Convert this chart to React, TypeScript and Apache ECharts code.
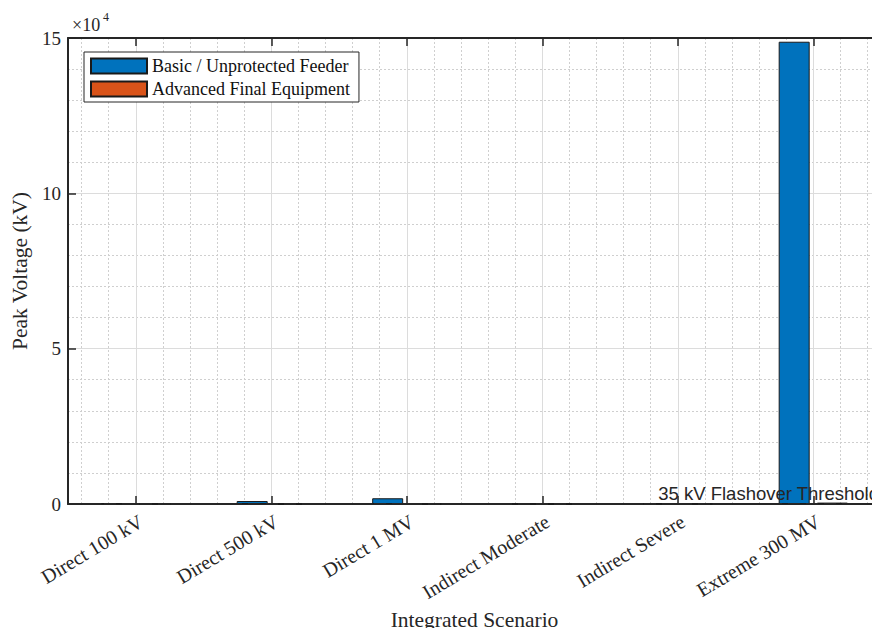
import React, { useEffect, useRef } from 'react';
import * as echarts from 'echarts';

// Scenario categories (x axis)
const categories = [
  'Direct 100 kV',
  'Direct 500 kV',
  'Direct 1 MV',
  'Indirect Moderate',
  'Indirect Severe',
  'Extreme 300 MV',
];

// Peak voltage (kV)
const basicFeeder = [220, 960, 1850, 60, 140, 148800];
const advancedEquipment = [20, 25, 30, 10, 15, 450];

// Flashover threshold (kV)
const thresholdKV = 35;
const thresholdLabel = '35 kV Flashover Threshold';

// Y axis range (kV) and major step
const yMin = 0;
const yMax = 150000;
const yStep = 50000;
const yScaleExp = 10000;

const seriesNames = ['Basic / Unprotected Feeder', 'Advanced Final Equipment'];

export default function App() {
  const ref = useRef<HTMLDivElement>(null);

  useEffect(() => {
    if (!ref.current) return;
    const chart = echarts.init(ref.current, null, { renderer: 'svg' });
    const axisColor = '#262626';
    const serif = '"Liberation Serif", "Times New Roman", serif';
    const sans = '"Liberation Sans", Arial, sans-serif';
    const majorGrid = '#dcdcdc';
    const minorGrid = '#cfcfcf';

    chart.setOption({
      animation: false,
      backgroundColor: '#ffffff',
      grid: {
        left: 68,
        top: 38,
        width: 813,
        height: 466,
        containLabel: false,
        outerBoundsMode: 'none',
      },
      legend: {
        orient: 'vertical',
        left: 84,
        top: 52,
        itemWidth: 56,
        itemHeight: 15,
        itemGap: 5,
        padding: [5, 9, 4, 6],
        backgroundColor: '#ffffff',
        borderColor: axisColor,
        borderWidth: 1,
        icon: 'rect',
        textStyle: { fontFamily: serif, fontSize: 18, color: '#111' },
        data: seriesNames,
      },
      graphic: [
        {
          type: 'text',
          left: 72,
          top: 16,
          style: { text: '×10', fontFamily: serif, fontSize: 18, fill: axisColor },
        },
        {
          type: 'text',
          left: 103,
          top: 11,
          style: { text: '4', fontFamily: serif, fontSize: 12, fill: axisColor },
        },
      ],
      xAxis: [
        {
          type: 'category',
          data: categories,
          position: 'bottom',
          axisLine: { show: true, lineStyle: { color: axisColor, width: 2 } },
          axisTick: {
            show: true,
            inside: true,
            alignWithLabel: true,
            length: 8,
            lineStyle: { color: axisColor, width: 1.5 },
          },
          axisLabel: {
            interval: 0,
            rotate: 31,
            verticalAlign: 'top',
            fontFamily: serif,
            fontSize: 20,
            color: axisColor,
            margin: 7,
          },
          splitLine: { show: false },
          name: 'Integrated Scenario',
          nameLocation: 'middle',
          nameGap: 104,
          nameTextStyle: { fontFamily: serif, fontSize: 21.5, color: axisColor },
        },
        {
          type: 'value',
          min: 0.5,
          max: 6.5,
          splitNumber: 6,
          minInterval: 1,
          maxInterval: 1,
          position: 'bottom',
          axisLine: { show: false },
          axisTick: { show: false },
          axisLabel: { show: false },
          splitLine: { show: true, lineStyle: { color: majorGrid, width: 1 } },
          minorTick: { show: false, splitNumber: 5 },
          minorSplitLine: { show: true, lineStyle: { color: minorGrid, width: 1, type: [2, 2] } },
        },
        {
          type: 'category',
          data: categories,
          position: 'top',
          axisLine: { show: true, lineStyle: { color: axisColor, width: 2 } },
          axisTick: {
            show: true,
            inside: true,
            alignWithLabel: true,
            length: 8,
            lineStyle: { color: axisColor, width: 1.5 },
          },
          axisLabel: { show: false },
          splitLine: { show: false },
        },
      ],
      yAxis: {
        type: 'value',
        min: yMin,
        max: yMax,
        interval: yStep,
        axisLine: { show: true, lineStyle: { color: axisColor, width: 2 } },
        axisTick: { show: true, inside: true, length: 8, lineStyle: { color: axisColor, width: 1.5 } },
        axisLabel: {
          formatter: (v: number) => String(v / yScaleExp),
          fontFamily: serif,
          fontSize: 19,
          color: axisColor,
          margin: 7,
        },
        splitLine: { show: true, lineStyle: { color: majorGrid, width: 1 } },
        minorTick: { show: false, splitNumber: 5 },
        minorSplitLine: { show: true, lineStyle: { color: minorGrid, width: 1, type: [2, 2] } },
        name: 'Peak Voltage (kV)',
        nameLocation: 'middle',
        nameGap: 31,
        nameTextStyle: { fontFamily: serif, fontSize: 21.5, color: axisColor },
      },
      series: [
        {
          type: 'bar',
          name: seriesNames[0],
          data: basicFeeder,
          xAxisIndex: 0,
          yAxisIndex: 0,
          barWidth: 31,
          barGap: '23%',
          itemStyle: { color: '#0072BD', borderColor: '#1a1a1a', borderWidth: 1 },
          markLine: {
            silent: true,
            symbol: 'none',
            data: [{ yAxis: thresholdKV }],
            lineStyle: { color: axisColor, type: [12, 6], width: 2 },
            label: {
              show: true,
              position: 'insideEndTop',
              formatter: thresholdLabel,
              fontFamily: sans,
              fontSize: 18.5,
              color: axisColor,
              distance: [2, 1],
            },
          },
        },
        {
          type: 'bar',
          name: seriesNames[1],
          data: advancedEquipment,
          xAxisIndex: 0,
          yAxisIndex: 0,
          barWidth: 31,
          barGap: '23%',
          itemStyle: { color: '#D95319', borderColor: '#1a1a1a', borderWidth: 1 },
        },
      ],
    });

    return () => chart.dispose();
  }, []);

  return (
    <div
      ref={ref}
      style={{ position: 'fixed', left: 0, top: 0, width: 872, height: 628, background: '#ffffff' }}
    />
  );
}
